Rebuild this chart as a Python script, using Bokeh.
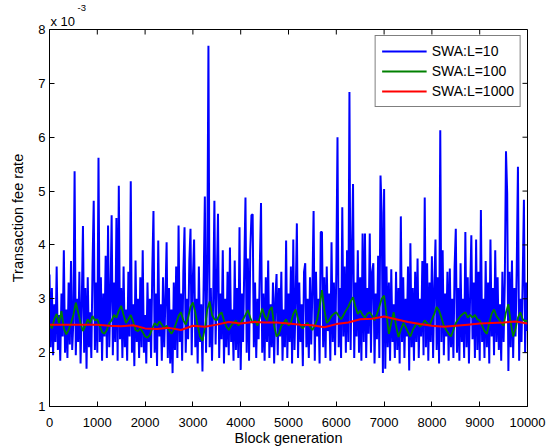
import math
from bokeh.plotting import figure
from bokeh.models import Range1d, Legend, LegendItem, FixedTicker, Title
from bokeh.embed import file_html
from bokeh.resources import INLINE

# ---- data ----
step_l10 = 25
swa_l10 = [
    3.45, 2.1, 3.2, 1.95, 2.9, 2.2, 3.6, 2.05, 2.7, 1.85, 3.1, 2.3, 3.9, 2.0, 2.8, 1.9, 3.3, 2.15, 3.7, 2.05,
    2.6, 5.37, 1.95, 3.0, 2.2, 3.5, 1.8, 2.9, 4.35, 2.0, 3.2, 1.7, 3.4, 2.1, 2.75, 1.9, 3.6, 4.82, 2.05, 3.3,
    2.0, 5.62, 2.2, 3.4, 1.85, 3.1, 2.3, 3.8, 1.9, 4.36, 2.1, 3.0, 4.55, 1.95, 3.3, 2.2, 4.5, 1.85, 5.1, 2.25,
    3.2, 1.9, 3.6, 2.1, 2.8, 1.85, 3.5, 2.3, 5.18, 2.0, 2.9, 1.75, 3.71, 2.2, 3.0, 1.9, 3.4, 2.1, 3.9, 2.0,
    2.7, 1.8, 3.3, 2.2, 3.0, 1.9, 3.5, 4.63, 2.0, 3.1, 1.75, 4.08, 2.3, 2.9, 1.85, 3.4, 2.1, 3.0, 4.05, 1.9,
    3.2, 1.8, 2.8, 1.62, 3.3, 2.05, 3.6, 1.9, 4.36, 2.2, 3.1, 1.85, 3.5, 4.33, 2.0, 3.0, 2.25, 3.7, 4.3, 1.95,
    3.4, 4.1, 2.1, 3.0, 1.8, 3.6, 2.2, 2.9, 1.65, 3.3, 4.9, 2.0, 3.5, 7.7, 2.1, 3.2, 1.85, 3.0, 4.82, 2.15,
    3.3, 4.58, 1.9, 3.1, 2.25, 3.9, 1.8, 3.0, 2.1, 3.5, 1.95, 3.95, 2.2, 2.8, 1.85, 3.71, 2.05, 3.2, 1.9, 4.33,
    1.68, 3.1, 2.2, 3.6, 4.88, 2.0, 3.75, 1.85, 3.9, 4.55, 4.57, 2.1, 3.3, 1.9, 3.0, 2.25, 3.6, 4.78, 2.0, 3.1,
    1.85, 3.4, 2.2, 3.71, 1.9, 2.9, 2.1, 3.3, 1.8, 3.0, 3.46, 1.95, 3.2, 2.3, 3.5, 1.85, 2.8, 2.1, 4.08, 1.9,
    3.1, 2.2, 3.6, 1.8, 4.1, 2.05, 3.0, 4.4, 1.9, 3.3, 2.2, 2.9, 1.75, 3.5, 3.66, 2.1, 3.0, 1.9, 3.4, 2.15,
    3.2, 4.63, 1.85, 3.5, 2.3, 3.0, 1.8, 4.24, 4.24, 2.1, 3.4, 1.9, 3.6, 2.4, 3.1, 1.85, 4.05, 2.2, 3.3, 1.95,
    3.5, 6.0, 2.1, 3.2, 1.9, 4.7, 2.3, 3.6, 2.0, 3.9, 2.2, 6.84, 2.05, 3.75, 5.13, 1.9, 3.3, 2.3, 3.9, 2.0,
    3.4, 1.85, 4.21, 2.2, 4.21, 1.9, 3.2, 2.35, 4.21, 2.0, 3.5, 3.66, 1.8, 3.1, 2.25, 3.8, 1.9, 5.29, 4.6, 1.62,
    5.04, 1.7, 3.6, 2.1, 3.3, 1.85, 3.55, 2.2, 2.9, 1.9, 3.5, 2.05, 3.2, 1.8, 4.53, 2.2, 3.4, 1.9, 3.0, 2.3,
    3.6, 1.67, 4.03, 2.1, 3.2, 1.85, 3.5, 2.2, 3.75, 1.9, 3.0, 2.3, 3.7, 1.95, 4.88, 2.1, 3.66, 1.85, 3.3, 2.2,
    3.79, 1.9, 3.2, 4.1, 2.05, 3.4, 1.8, 6.13, 2.2, 3.9, 1.95, 3.1, 2.3, 3.5, 1.85, 3.56, 2.1, 3.0, 1.9, 3.6,
    4.3, 2.0, 3.2, 1.85, 3.66, 2.2, 3.0, 1.9, 4.24, 2.1, 3.4, 1.8, 3.1, 4.18, 2.25, 3.3, 1.9, 4.1, 2.05, 3.5,
    1.85, 4.65, 2.2, 3.0, 1.9, 3.7, 2.1, 3.3, 1.8, 4.1, 2.3, 3.2, 1.95, 3.9, 2.2, 3.4, 2.05, 2.9, 1.85, 3.5,
    2.2, 3.3, 5.74, 4.96, 1.66, 3.5, 2.1, 3.71, 1.9, 3.2, 2.3, 3.6, 5.45, 1.85, 3.0, 2.2, 3.4, 4.84, 2.0, 3.3,
    2.4,
]
blocks_l10 = list(range(0, 10001, step_l10))

step_l100 = 50
swa_l100 = [
    2.53, 2.45, 2.62, 2.72, 2.55, 2.77, 2.45, 2.34, 2.42, 2.55, 2.7, 2.93, 2.75, 2.55, 2.4, 2.5, 2.62, 2.55, 2.68, 2.6,
    2.62, 2.5, 2.38, 2.35, 2.42, 2.55, 2.6, 2.7, 2.65, 2.78, 2.87, 2.7, 2.55, 2.62, 2.7, 2.58, 2.42, 2.4, 2.45, 2.38,
    2.3, 2.28, 2.33, 2.45, 2.55, 2.5, 2.58, 2.52, 2.45, 2.5, 2.42, 2.35, 2.42, 2.55, 2.68, 2.75, 2.6, 2.52, 2.65, 2.85,
    2.93, 2.75, 2.5, 2.3, 2.22, 2.45, 2.8, 2.95, 2.7, 2.62, 2.6, 2.7, 2.75, 2.6, 2.48, 2.42, 2.5, 2.55, 2.6, 2.5,
    2.55, 2.62, 2.7, 2.79, 2.65, 2.55, 2.6, 2.5, 2.65, 2.82, 2.68, 2.6, 2.78, 2.85, 2.5, 2.3, 2.35, 2.5, 2.55, 2.62,
    2.5, 2.55, 2.72, 2.8, 2.62, 2.5, 2.45, 2.52, 2.55, 2.48, 2.42, 2.5, 2.62, 2.85, 3.16, 2.8, 2.55, 2.6, 2.68, 2.72,
    2.75, 2.68, 2.62, 2.7, 2.78, 2.85, 2.95, 3.03, 2.85, 2.72, 2.78, 2.7, 2.65, 2.72, 2.75, 2.68, 2.6, 2.72, 2.85, 3.0,
    3.06, 2.7, 2.35, 2.55, 2.75, 2.5, 2.29, 2.42, 2.55, 2.48, 2.38, 2.3, 2.42, 2.5, 2.55, 2.48, 2.52, 2.6, 2.55, 2.5,
    2.62, 2.72, 2.85, 2.78, 2.65, 2.5, 2.42, 2.35, 2.3, 2.42, 2.55, 2.62, 2.68, 2.72, 2.75, 2.65, 2.7, 2.65, 2.7, 2.62,
    2.6, 2.5, 2.4, 2.35, 2.55, 2.72, 2.8, 2.68, 2.62, 2.55, 2.5, 2.75, 2.9, 2.55, 2.3, 2.45, 2.65, 2.75, 2.62, 2.58,
    2.6,
]
blocks_l100 = list(range(0, 10001, step_l100))

step_l1000 = 250
swa_l1000 = [
    2.52, 2.52, 2.52, 2.52, 2.52, 2.50, 2.49, 2.51, 2.45, 2.44, 2.46, 2.42, 2.50, 2.48, 2.52, 2.57,
    2.54, 2.57, 2.56, 2.56, 2.54, 2.52, 2.51, 2.47, 2.53, 2.56, 2.62, 2.63, 2.67, 2.62, 2.57, 2.53,
    2.50, 2.48, 2.50, 2.52, 2.54, 2.55, 2.56, 2.58, 2.54,
]
blocks_l1000 = list(range(0, 10001, step_l1000))

series_names = ["SWA:L=10", "SWA:L=100", "SWA:L=1000"]
series_colors = ["#0000FF", "#008000", "#FF0000"]
x_ticks = list(range(0, 10001, 1000))
y_ticks = [1, 2, 3, 4, 5, 6, 7, 8]
x_min, x_max = 0, 10000
y_min, y_max = 1, 8

FONT = "Liberation Sans"

p = figure(
    frame_width=478, frame_height=377,
    x_range=Range1d(x_min, x_max), y_range=Range1d(y_min, y_max),
    output_backend="svg", toolbar_location=None,
    min_border_left=49, min_border_right=27, min_border_top=29, min_border_bottom=42,
    background_fill_color="white", border_fill_color="white",
)
p.outline_line_color = "black"
p.outline_line_width = 1
p.xgrid.visible = False
p.ygrid.visible = False

r_blue = p.line(blocks_l10, swa_l10, line_color=series_colors[0], line_width=2)
r_green = p.line(blocks_l100, swa_l100, line_color=series_colors[1], line_width=1.8)
r_red = p.line(blocks_l1000, swa_l1000, line_color=series_colors[2], line_width=2)

# inward ticks on the top and right edges (MATLAB box style)
p.ray(x=x_ticks, y=[y_max] * len(x_ticks), length=5, length_units="screen",
      angle=-math.pi / 2, line_color="black", line_width=1)
p.ray(x=[x_max] * len(y_ticks), y=y_ticks, length=5, length_units="screen",
      angle=math.pi, line_color="black", line_width=1)

def style_axis(ax):
    ax.axis_line_color = "black"
    ax.major_tick_line_color = "black"
    ax.major_tick_in = 5
    ax.major_tick_out = 0
    ax.minor_tick_line_color = None
    ax.major_label_text_font = FONT
    ax.major_label_text_font_size = "13px"
    ax.major_label_text_color = "black"
    ax.axis_label_text_font = FONT
    ax.axis_label_text_font_size = "14.5px"
    ax.axis_label_text_font_style = "normal"
    ax.axis_label_text_color = "black"

xa = p.xaxis[0]
ya = p.yaxis[0]
xa.ticker = FixedTicker(ticks=x_ticks)
ya.ticker = FixedTicker(ticks=y_ticks)
style_axis(xa)
style_axis(ya)
xa.axis_label = "Block generation"
ya.axis_label = "Transaction fee rate"
xa.major_label_standoff = 11
xa.axis_label_standoff = 0
ya.major_label_standoff = 4
ya.axis_label_standoff = 9

# exponent note "x 10^-3" above the y axis (two stacked titles)
t_base = Title(text="x 10", align="left", offset=1, standoff=2,
               text_font=FONT, text_font_size="13px", text_font_style="normal",
               text_color="black")
t_exp = Title(text="-3", align="left", offset=28, standoff=0,
              text_font=FONT, text_font_size="9.5px", text_font_style="normal",
              text_color="black")
p.add_layout(t_base, "above")
p.add_layout(t_exp, "above")

legend = Legend(items=[
    LegendItem(label=series_names[0], renderers=[r_blue]),
    LegendItem(label=series_names[1], renderers=[r_green]),
    LegendItem(label=series_names[2], renderers=[r_red]),
], location="top_right")
legend.margin = 6
legend.padding = 6
legend.spacing = 2
legend.glyph_width = 45
legend.glyph_height = 18
legend.label_height = 18
legend.label_standoff = 5
legend.label_text_font = FONT
legend.label_text_font_size = "14px"
legend.label_text_color = "black"
legend.border_line_color = "black"
legend.border_line_width = 1
legend.background_fill_color = "white"
legend.background_fill_alpha = 1.0
p.add_layout(legend, "center")

open("out.html", "w").write(file_html(p, INLINE))
